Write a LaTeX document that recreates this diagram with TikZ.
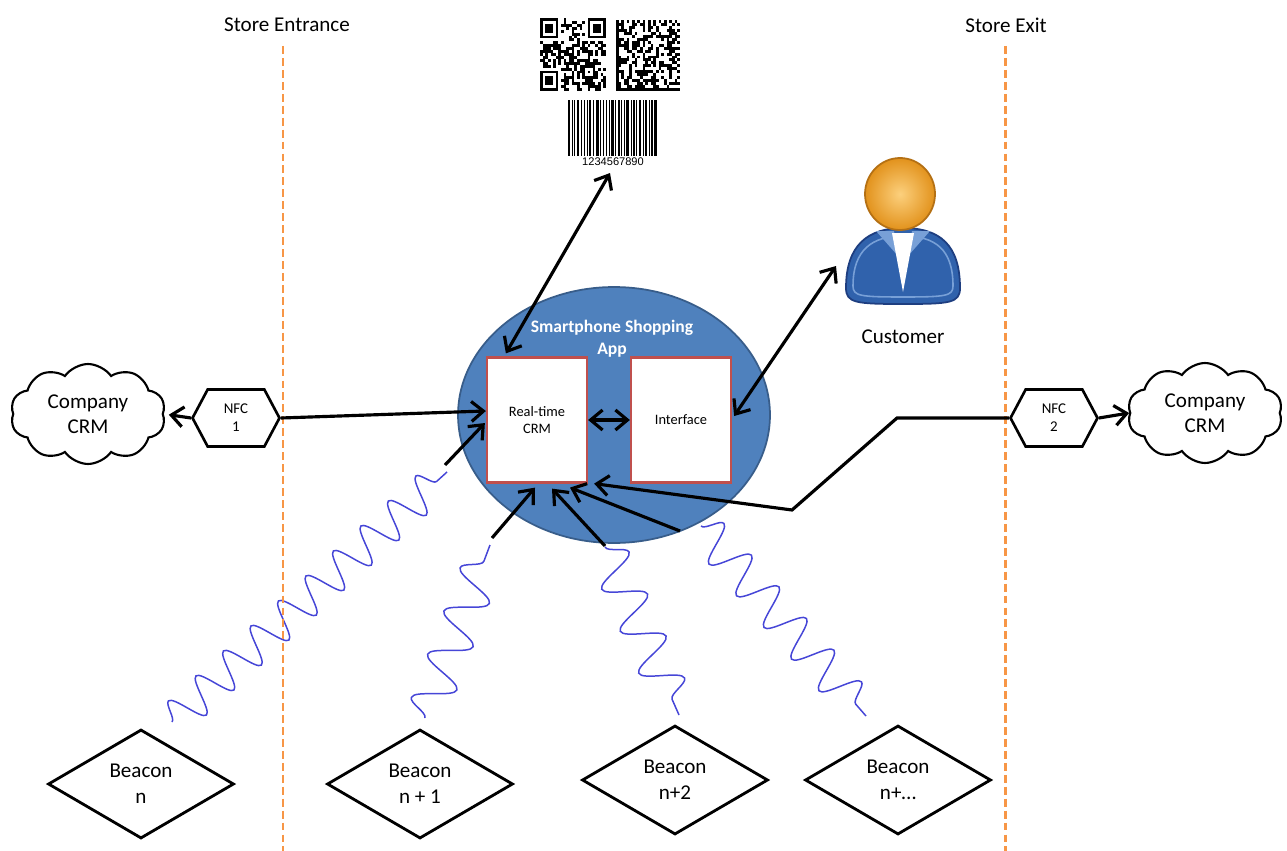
\documentclass[tikz,border=0pt]{standalone}
\usepackage{fontspec}
\setmainfont{Carlito}
\newfontfamily\digitfont{Liberation Sans}
\usepackage{tikz}
\usetikzlibrary{positioning,arrows.meta,shapes.geometric,shapes.symbols,decorations.pathmorphing,calc}

\definecolor{appblue}{RGB}{79,129,189}
\definecolor{appedge}{RGB}{56,93,138}
\definecolor{boxred}{RGB}{192,80,77}
\definecolor{doororange}{RGB}{247,150,70}
\definecolor{wavecol}{RGB}{70,70,215}
\definecolor{headlight}{RGB}{252,208,125}
\definecolor{headdark}{RGB}{226,146,28}
\definecolor{headedge}{RGB}{180,112,20}
\definecolor{suitblue}{RGB}{48,98,172}
\definecolor{suitedge}{RGB}{30,62,128}
\definecolor{suitlight}{RGB}{120,160,215}

\tikzset{
app/.style={
draw=appedge,
line width=1pt,
ellipse,
fill=appblue,
minimum width=6.24cm,
minimum height=5.12cm
},
module/.style={
draw=boxred,
line width=1.3pt,
fill=white,
minimum width=2cm,
minimum height=2.5cm,
align=center,
font=\fontsize{8.2}{9.8}\selectfont
},
nfc/.style={
draw,
line width=1.5pt,
signal,
signal to=west and east,
signal pointer angle=124,
minimum width=1.74cm,
minimum height=1.14cm,
inner sep=0pt,
fill=white,
align=center,
font=\fontsize{8.5}{10.4}\selectfont
},
crm/.style={
draw,
line width=1.2pt,
cloud,
cloud puffs=10,
cloud puff arc=110,
cloud ignores aspect,
minimum width=3.1cm,
minimum height=2cm,
align=center,
font=\fontsize{12}{14.5}\selectfont
},
beacon/.style={
draw,
line width=1.6pt,
diamond,
minimum width=3.72cm,
minimum height=2.18cm,
inner sep=0pt,
align=center,
font=\fontsize{12}{14.8}\selectfont
},
door/.style={
draw=doororange,
line width=1.7pt,
dash pattern=on 4.5pt off 2.3pt
},
arrow/.style={
-{Straight Barb[length=2.4mm,width=4mm]},
line width=1.8pt
},
dblarrow/.style={
{Straight Barb[length=2.4mm,width=4mm]}-{Straight Barb[length=2.4mm,width=4mm]},
line width=1.8pt
},
radio/.style 2 args={
draw=wavecol,
line width=0.85pt,
decorate,
decoration={snake,amplitude=#2,segment length=#1}
}
}

\begin{document}
\begin{tikzpicture}[x=0.02cm,y=-0.02cm]
\useasboundingbox (0,0) rectangle (1287,851);

% beacon signals
\coordinate (w0a) at (172,722);
\coordinate (w0b) at (447,472);
\coordinate (w1a) at (425,718);
\coordinate (w1b) at (490,545);
\coordinate (w2a) at (605,547);
\coordinate (w2b) at (679,715);
\coordinate (w3a) at (701,526);
\coordinate (w3b) at (866,716);
\draw[radio={0.743cm}{0.36cm}] (w0a) -- (w0b);
\draw[radio={0.924cm}{0.4cm}] (w1a) -- (w1b);
\draw[radio={0.918cm}{0.4cm}] (w2a) -- (w2b);
\draw[radio={0.839cm}{0.38cm}] (w3a) -- (w3b);

% entrance and exit
\node[font=\fontsize{12}{14.5}\selectfont] (entrance) at (287,25) {Store Entrance};
\node[font=\fontsize{12}{14.5}\selectfont] (exit) at (1006,25) {Store Exit};
\coordinate (entrTop) at (283,46);
\coordinate (entrBot) at (283,851);
\coordinate (exitTop) at (1005,46);
\coordinate (exitBot) at (1005,851);
\draw[door] (entrTop) -- (entrBot);
\draw[door] (exitTop) -- (exitBot);

% the app
\node[app] (app) at (614,415) {};
\node[font=\bfseries\fontsize{10}{12.5}\selectfont,text=white,align=center] (apptitle) at (612,339) {Smartphone Shopping\\App};
\node[module] (rtcrm) at (537,420) {Real-time\\CRM};
\node[module] (ui) at (681,420) {Interface};
\draw[dblarrow] (rtcrm) -- (ui);

% QR code
\begin{scope}[shift={(540,18)},x=0.0528cm,y=-0.0584cm]
\foreach \fx/\fy in {0/0,18/0,0/18}{
\fill (\fx,\fy) rectangle ++(7,7);
\fill[white] (\fx+1,\fy+1) rectangle ++(5,5);
\fill (\fx+2,\fy+2) rectangle ++(3,3);
}
\fill (16,16) rectangle ++(5,5);
\fill[white] (17,17) rectangle ++(3,3);
\fill (18,18) rectangle ++(1,1);
\pgfmathsetseed{11}
\foreach \i in {0,...,24}
\foreach \j in {0,...,24}{
\pgfmathtruncatemacro\fz{(\i<8 && \j<8) || (\i>16 && \j<8) || (\i<8 && \j>16) || (\i>15 && \i<21 && \j>15 && \j<21)}
\pgfmathtruncatemacro\qbit{rnd<0.48}
\ifnum\fz=0 \ifnum\qbit=1 \fill (\i,\j) rectangle ++(1,1); \fi\fi
}
\end{scope}

% data matrix
\begin{scope}[shift={(616,20)},x=0.0533cm,y=-0.0592cm]
\fill (0,0) rectangle (1,24);
\fill (0,23) rectangle (24,24);
\foreach \k in {0,2,...,22}{
\fill (\k,0) rectangle ++(1,1);
\fill (23,\k+1) rectangle ++(1,1);
}
\pgfmathsetseed{29}
\foreach \i in {1,...,22}
\foreach \j in {1,...,22}{
\pgfmathtruncatemacro\qbit{rnd<0.5}
\ifnum\qbit=1 \fill (\i,\j) rectangle ++(1,1); \fi
}
\end{scope}

% barcode
\begin{scope}[shift={(568,100)}]
\foreach \bx/\bw in {0/2,3.5/1,6/1,8.5/2.5,13/1,15.5/1.5,19/1,21/2,25/1,27.5/3,32/1,34.5/1.5,38/1,40.5/1,43/2.5,47/1,49.5/2,53/1,55.5/1,58/3,62.5/1,65/1.5,68/1,70.5/2.5,74.5/1,77/2,80.5/1,83/1.5,86/3}
\fill (\bx,0) rectangle ++(\bw,56);
\end{scope}
\node[font=\digitfont\fontsize{6.3}{7}\selectfont,inner sep=1pt] (digits) at (613,162) {1234567890};
\draw[dblarrow] ([shift={(20,-3)}]rtcrm.north west) -- ([shift={(-3,5)}]digits.south);

% customer
\draw[suitedge,fill=suitblue,line width=1pt] (846,288) .. controls (846,245) and (868,228) .. (903,228) .. controls (940,228) and (960,245) .. (960,288) .. controls (960,303) and (950,304) .. (903,304) .. controls (856,304) and (846,303) .. (846,288) -- cycle;
\draw[suitlight,line width=0.9pt] (853,286) .. controls (853,250) and (872,236) .. (903,236) .. controls (936,236) and (953,250) .. (953,286) .. controls (953,296) and (946,297) .. (903,297) .. controls (860,297) and (853,296) .. (853,286) -- cycle;
\fill[suitlight] (876,231) -- (894,231) -- (898,256) -- cycle;
\fill[suitlight] (930,231) -- (912,231) -- (908,256) -- cycle;
\fill[white] (892,233) -- (914,233) -- (903,292) -- cycle;
\shade[draw=headedge,line width=1pt,inner color=headlight,outer color=headdark] (900,194) ellipse [x radius=35,y radius=36];
\node[font=\fontsize{12}{14.5}\selectfont] (customer) at (903,337) {Customer};
\coordinate (custarm) at (836,266);
\draw[dblarrow] ([shift={(2,-4)}]ui.east) -- (custarm);

% NFC readers and company CRM
\node[crm] (crmL) at (88,414) {Company\\CRM};
\node[crm] (crmR) at (1205,413) {Company\\CRM};
\node[nfc] (nfc1) at (236,418) {NFC\\1};
\node[nfc] (nfc2) at (1054,418) {NFC\\2};
\draw[arrow,shorten >=0.1cm] (nfc1.west) -- (crmL.east);
\draw[arrow] (nfc1.east) -- (rtcrm.170);
\draw[arrow] (nfc2.east) -- (crmR.west);
\draw[arrow] (nfc2.west) -- (897,418) -- (792,510) -- ([shift={(6,0)}]rtcrm.south east);

% beacons
\node[beacon] (bcn0) at (141,784) {Beacon\\n};
\node[beacon] (bcn1) at (420,784) {Beacon\\n + 1};
\node[beacon] (bcn2) at (675,780) {Beacon\\n+2};
\node[beacon] (bcn3) at (898,780) {Beacon\\n+…};
\coordinate (b0tail) at (445,465);
\coordinate (b1tail) at (492,538);
\coordinate (b2tail) at (605,546);
\coordinate (b3tail) at (680,531);
\draw[arrow] (b0tail) -- ([shift={(-1,3)}]rtcrm.west);
\draw[arrow] (b1tail) -- ([shift={(-2,4)}]rtcrm.south);
\draw[arrow] (b2tail) -- ([shift={(15,5)}]rtcrm.south);
\draw[arrow] (b3tail) -- ([shift={(33,4)}]rtcrm.south);
\end{tikzpicture}
\end{document}
